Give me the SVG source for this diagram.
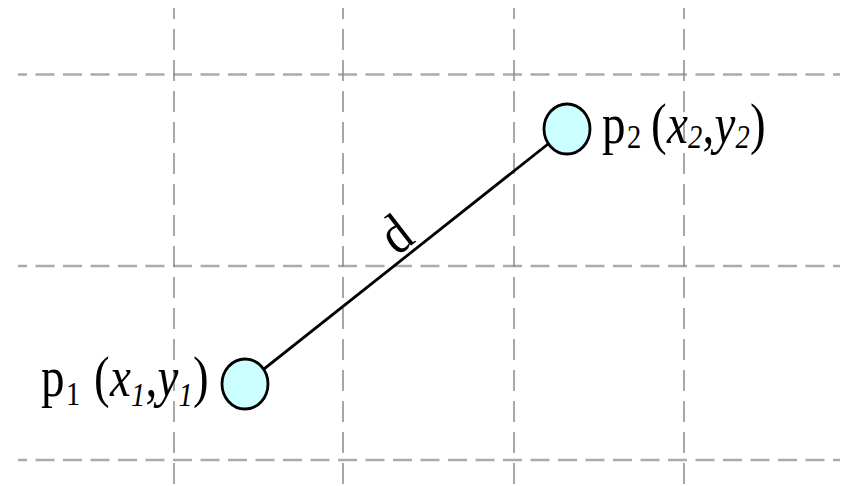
<svg xmlns="http://www.w3.org/2000/svg" width="853" height="486" viewBox="0 0 853 486">
<style>
.h{stroke:#ababab;stroke-width:2.5;stroke-dasharray:19 8.5;stroke-dashoffset:10;fill:none}
.v{stroke:#8a8a8a;stroke-width:1.5;stroke-dasharray:21 10;stroke-dashoffset:10;fill:none}
.node{fill:#ccffff;stroke:#000;stroke-width:2.8}
.edge{stroke:#000;stroke-width:2.8;fill:none}
.t{font-family:'Liberation Serif','DejaVu Serif',serif;fill:#000}
.m{font-size:56px}
.s{font-size:34px}
.i{font-style:italic}
</style>
<rect width="853" height="486" fill="#fff"/>
<g id="grid">
<line class="h" x1="18" y1="74.5" x2="840" y2="74.5"/>
<line class="h" x1="18" y1="266" x2="840" y2="266"/>
<line class="h" x1="18" y1="460" x2="840" y2="460"/>
<line class="v" x1="174" y1="8" x2="174" y2="486"/>
<line class="v" x1="343" y1="8" x2="343" y2="486"/>
<line class="v" x1="514" y1="8" x2="514" y2="486"/>
<line class="v" x1="684" y1="8" x2="684" y2="486"/>
</g>
<g id="connectors">
<line class="edge" x1="245" y1="384" x2="567" y2="129"/>
<text id="label-d" class="t m" text-anchor="middle" transform="translate(407,249) rotate(-38) scale(0.88,1)">d</text>
</g>
<g id="p1">
<ellipse class="node" cx="245" cy="384" rx="23" ry="25"/>
<text class="t" transform="matrix(0.84 0 0 1 41 396)"><tspan class="m" x="0" y="0">p</tspan><tspan class="s" x="29.8" y="9">1</tspan><tspan class="m" x="63.1" y="0">(</tspan><tspan class="m i" x="82.1" y="0">x</tspan><tspan class="s i" x="107.1" y="10">1</tspan><tspan class="m" x="124.4" y="0">,</tspan><tspan class="m i" x="138.7" y="0">y</tspan><tspan class="s i" x="163.7" y="10">1</tspan><tspan class="m" x="181" y="0">)</tspan></text>
</g>
<g id="p2">
<ellipse class="node" cx="567" cy="129" rx="23" ry="25"/>
<text class="t" transform="matrix(0.84 0 0 1 602 143)"><tspan class="m" x="0" y="0">p</tspan><tspan class="s" x="29.8" y="5">2</tspan><tspan class="m" x="58.3" y="0">(</tspan><tspan class="m i" x="77.4" y="0">x</tspan><tspan class="s i" x="102.4" y="5">2</tspan><tspan class="m" x="119.6" y="0">,</tspan><tspan class="m i" x="133.9" y="0">y</tspan><tspan class="s i" x="158.9" y="5">2</tspan><tspan class="m" x="176.2" y="0">)</tspan></text>
</g>
</svg>
